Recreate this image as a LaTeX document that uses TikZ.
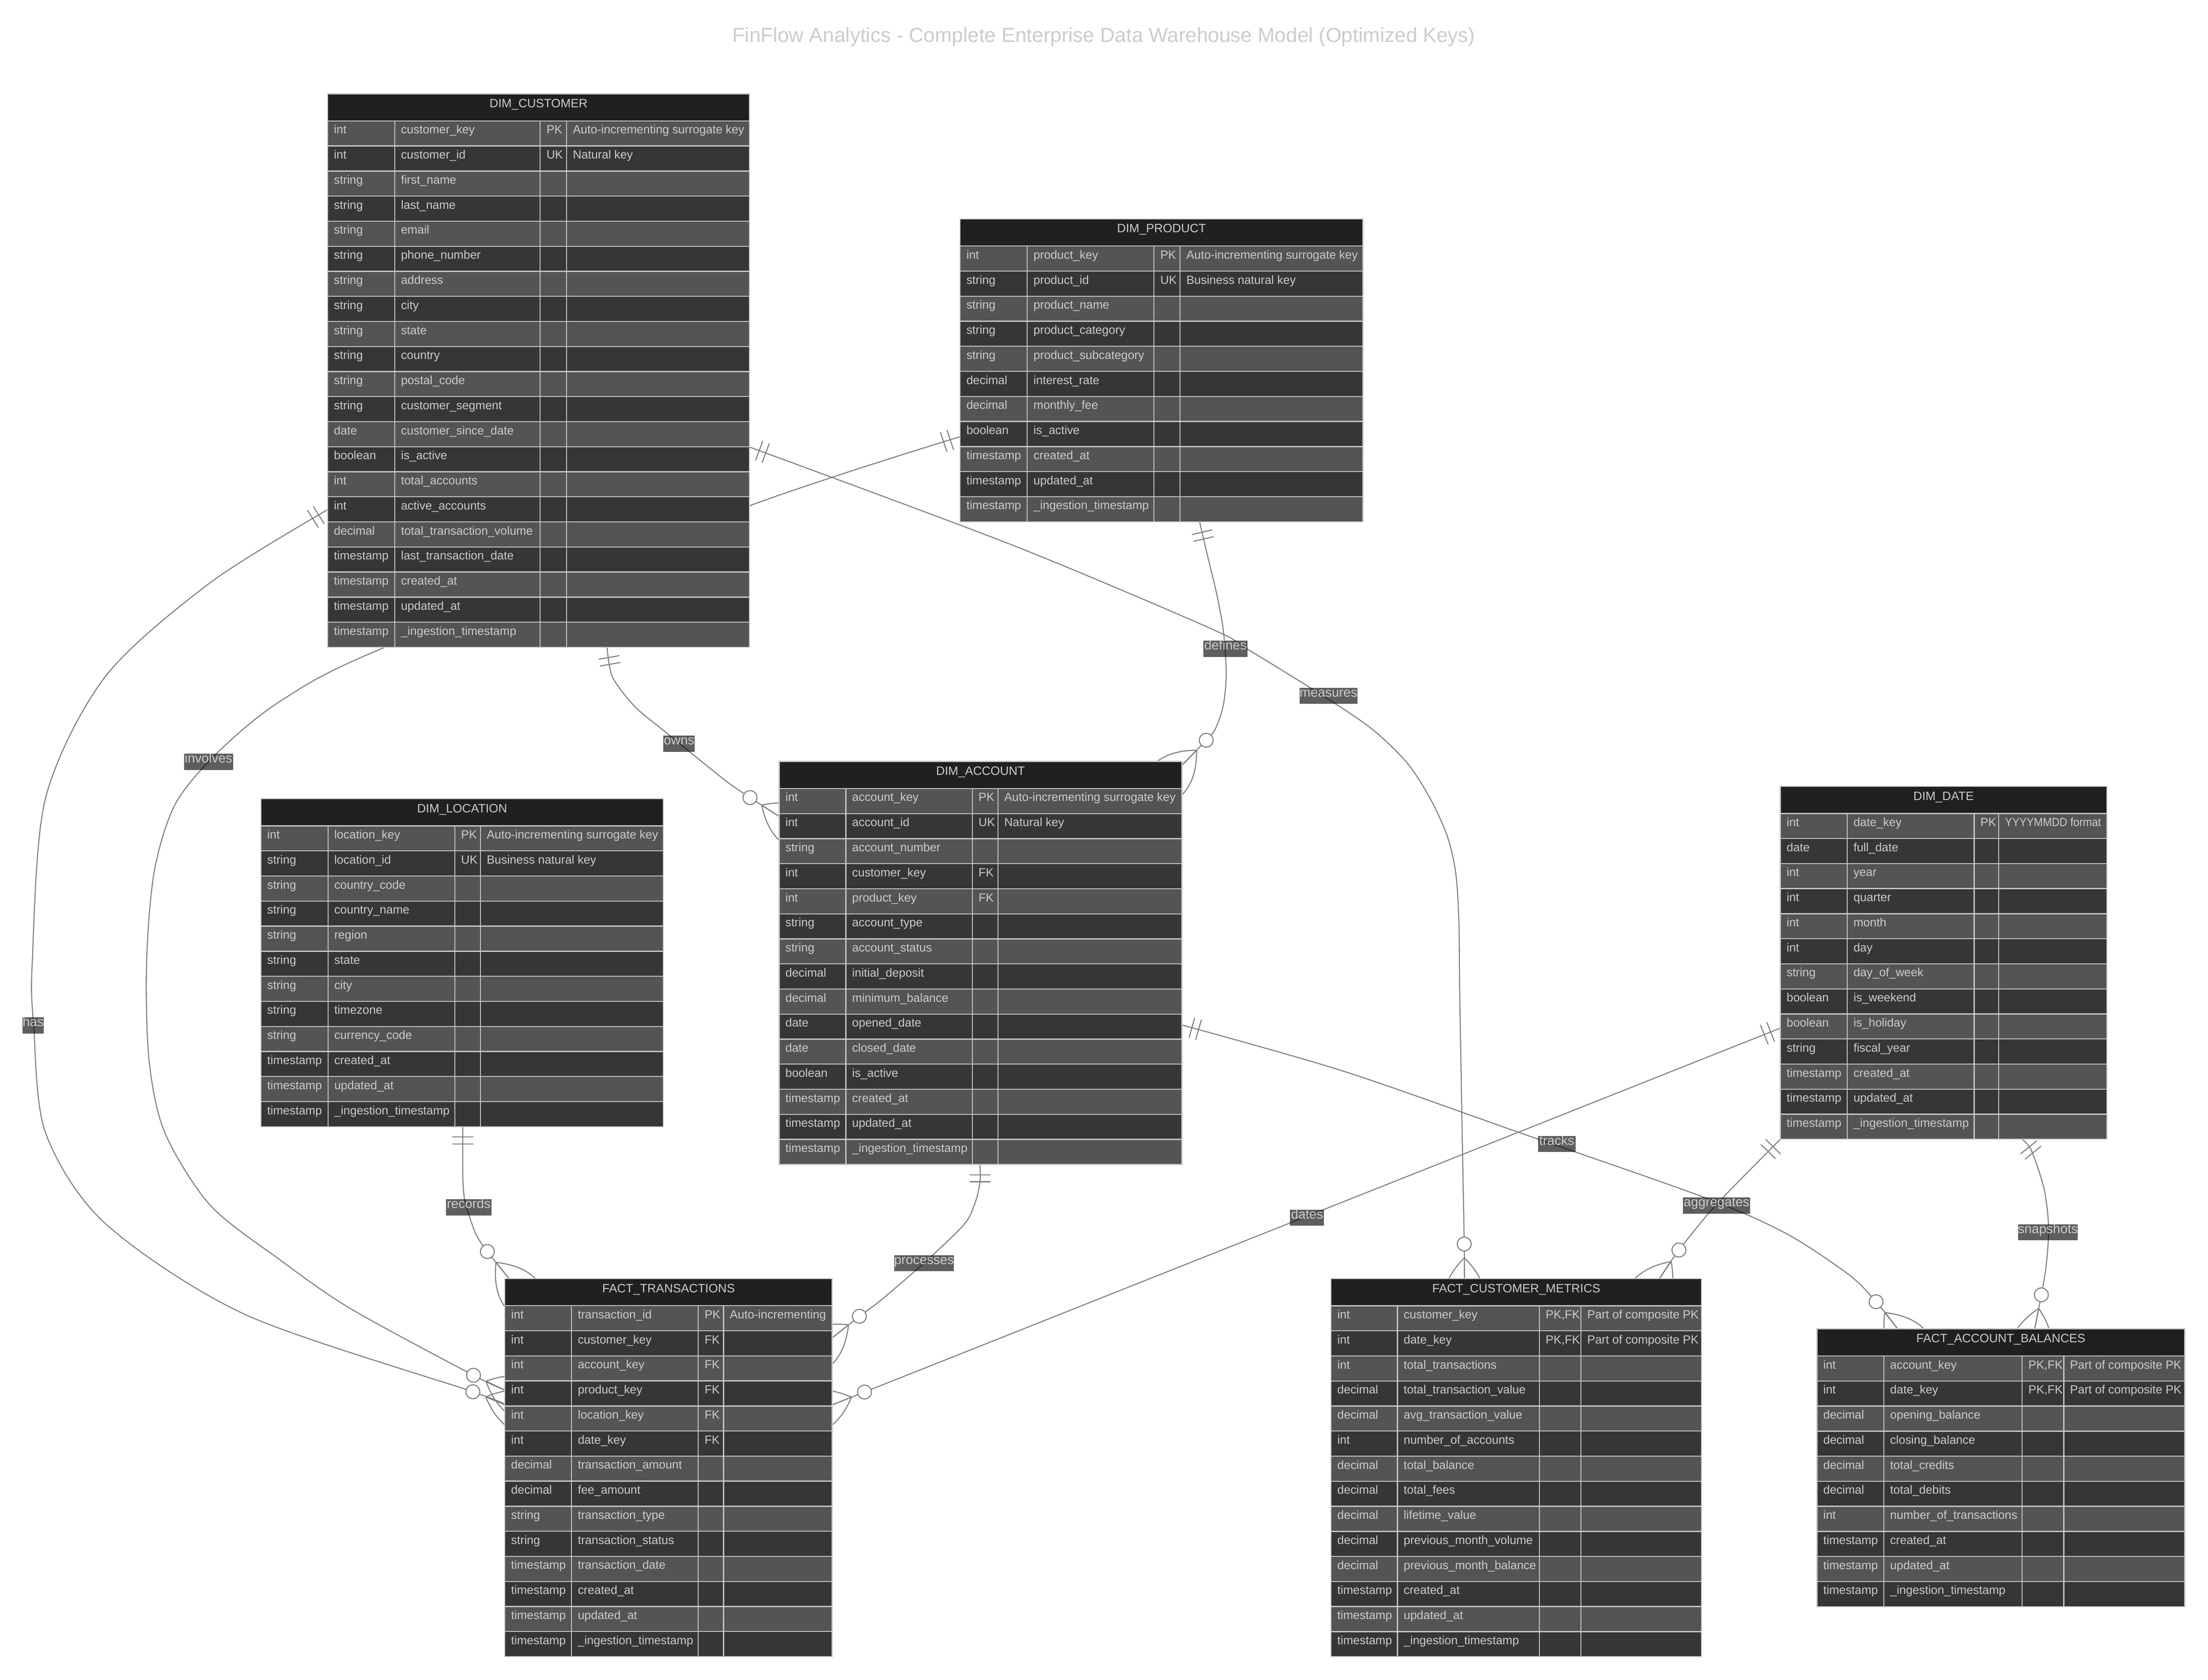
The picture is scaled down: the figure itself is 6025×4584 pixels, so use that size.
\documentclass[tikz,border=0pt]{standalone}
\usepackage{fontspec}
\usepackage{graphicx}
\setmainfont{Liberation Sans}
\definecolor{hdrfill}{HTML}{1F2020}
\definecolor{rowodd}{HTML}{545454}
\definecolor{roweven}{HTML}{363636}
\definecolor{gridcol}{HTML}{C8C8C8}
\definecolor{txtcol}{HTML}{CCCCCC}
\definecolor{linecol}{HTML}{7F7F7F}
\newcommand\rowfont{\fontsize{9.2}{11}\selectfont}
\newcommand\hdrfont{\fontsize{9.4}{11}\selectfont}
\newcommand\lblfont{\fontsize{10.2}{12}\selectfont}
\newcommand\ttlfont{\fontsize{15.8}{18}\selectfont}
\newcommand\pkfk{PK,FK}
\newcommand\yyyyfmt{\scalebox{0.91}[1]{YYYYMMDD format}}
\pgfdeclarelayer{bgw}
\pgfdeclarelayer{edges}
\pgfsetlayers{bgw,edges,main}
\tikzset{
  celltext/.style={anchor=base west, inner sep=0pt, text=txtcol, font=\rowfont},
  hdrtext/.style={anchor=base, inner sep=0pt, text=txtcol, font=\hdrfont},
  gridline/.style={draw=gridcol, line width=0.8pt},
  tablenode/.style={inner sep=0pt, outer sep=0pt, anchor=north west, draw=none},
  ermark/.style={draw=linecol, line width=0.8pt, solid},
  erline/.style={draw=linecol, line width=0.8pt},
  lbl/.style={fill=black, fill opacity=0.63, text opacity=1, text=txtcol, font=\lblfont,
    inner sep=0pt, text height=0.25cm, text depth=0.19cm},
  ttl/.style={anchor=base, inner sep=0pt, text=txtcol, font=\ttlfont},
}
\newcommand\tabgeom[6]{\def\tL{#1}\def\tT{#2}\def\tA{#3}\def\tB{#4}\def\tC{#5}\def\tR{#6}}
\newcommand\ertable[4]{%
  \pgfmathsetmacro\tBot{\tT+74+#2*68.4}%
  \pgfmathsetmacro\tW{(\tR-\tL)*0.01}%
  \pgfmathsetmacro\tH{(\tBot-\tT)*0.01}%
  \node[tablenode, minimum width=\tW cm, minimum height=\tH cm] (#1) at (\tL,\tT) {};
  \fill[hdrfill] (\tL,\tT) rectangle (\tR,\tT+74);
  \node[hdrtext] at ({(\tL+\tR)/2},\tT+37.5) {#3};
  \foreach[count=\i] \ty/\nm/\ky/\cmt in {#4} {
    \pgfmathsetmacro\rtop{\tT+74+(\i-1)*68.4}
    \pgfmathsetmacro\rbot{\rtop+68.4}
    \ifodd\i\relax
      \fill[rowodd] (\tL,\rtop) rectangle (\tR,\rbot);
    \else
      \fill[roweven] (\tL,\rtop) rectangle (\tR,\rbot);
    \fi
    \node[celltext] at (\tL+16.5,\rtop+35) {\ty};
    \node[celltext] at (\tA+16.5,\rtop+35) {\nm};
    \node[celltext] at (\tB+16.5,\rtop+35) {\ky};
    \node[celltext] at (\tC+16.5,\rtop+35) {\cmt};
    \draw[gridline] (\tL,\rtop) -- (\tR,\rtop);
  }
  \draw[gridline] (\tA,\tT+74) -- (\tA,\tBot) (\tB,\tT+74) -- (\tB,\tBot) (\tC,\tT+74) -- (\tC,\tBot);
  \draw[gridline] (\tL,\tT) rectangle (\tR,\tBot);
}
% crow's-foot markers: exactly-one at #1-s (heading to #1-s2), zero-or-more at #1-e (coming from #1-e2)
\newcommand\ermarks[1]{%
  \pgfmathanglebetweenpoints{\pgfpointanchor{#1-s}{center}}{\pgfpointanchor{#1-s2}{center}}%
  \edef\angS{\pgfmathresult}%
  \pgfmathanglebetweenpoints{\pgfpointanchor{#1-e2}{center}}{\pgfpointanchor{#1-e}{center}}%
  \edef\angE{\pgfmathresult}%
  \begin{scope}[shift={(#1-s)}, rotate=\angS]
    \draw[ermark] (28.35,-28.35) -- (28.35,28.35) (47.25,-28.35) -- (47.25,28.35);
  \end{scope}
  \begin{scope}[shift={(#1-e)}, rotate=\angE]
    \draw[ermark] (-56.7,0) .. controls (-18.9,37.8) and (18.9,56.7) .. (56.7,56.7)
                  (-56.7,0) .. controls (-18.9,-37.8) and (18.9,-56.7) .. (56.7,-56.7)
                  (-56.7,0) -- (56.7,0);
    \draw[ermark, fill=white] (-94.5,0) circle (18.9);
  \end{scope}}
\begin{document}
\catcode`\_=12
\begin{tikzpicture}[x=0.01cm,y=-0.01cm]
\useasboundingbox (0,0) rectangle (6025,4584);
\begin{pgfonlayer}{bgw}
\fill[white] (0,0) rectangle (6025,4584);
\end{pgfonlayer}

\node[ttl] (title) at (3012,115) {FinFlow Analytics - Complete Enterprise Data Warehouse Model (Optimized Keys)};

% ---------------- tables ----------------
\tabgeom{894}{256}{1077}{1474}{1546}{2045}
\ertable{cust}{21}{DIM_CUSTOMER}{int/customer_key/PK/Auto-incrementing surrogate key,
int/customer_id/UK/Natural key,
string/first_name//,
string/last_name//,
string/email//,
string/phone_number//,
string/address//,
string/city//,
string/state//,
string/country//,
string/postal_code//,
string/customer_segment//,
date/customer_since_date//,
boolean/is_active//,
int/total_accounts//,
int/active_accounts//,
decimal/total_transaction_volume//,
timestamp/last_transaction_date//,
timestamp/created_at//,
timestamp/updated_at//,
timestamp/_ingestion_timestamp//}

\tabgeom{2620}{597.5}{2803}{3149}{3220}{3719}
\ertable{prod}{11}{DIM_PRODUCT}{int/product_key/PK/Auto-incrementing surrogate key,
string/product_id/UK/Business natural key,
string/product_name//,
string/product_category//,
string/product_subcategory//,
decimal/interest_rate//,
decimal/monthly_fee//,
boolean/is_active//,
timestamp/created_at//,
timestamp/updated_at//,
timestamp/_ingestion_timestamp//}

\tabgeom{2126}{2078}{2308}{2653}{2723}{3225}
\ertable{acct}{15}{DIM_ACCOUNT}{int/account_key/PK/Auto-incrementing surrogate key,
int/account_id/UK/Natural key,
string/account_number//,
int/customer_key/FK/,
int/product_key/FK/,
string/account_type//,
string/account_status//,
decimal/initial_deposit//,
decimal/minimum_balance//,
date/opened_date//,
date/closed_date//,
boolean/is_active//,
timestamp/created_at//,
timestamp/updated_at//,
timestamp/_ingestion_timestamp//}

\tabgeom{712}{2180}{895}{1241}{1311}{1810}
\ertable{loc}{12}{DIM_LOCATION}{int/location_key/PK/Auto-incrementing surrogate key,
string/location_id/UK/Business natural key,
string/country_code//,
string/country_name//,
string/region//,
string/state//,
string/city//,
string/timezone//,
string/currency_code//,
timestamp/created_at//,
timestamp/updated_at//,
timestamp/_ingestion_timestamp//}

\tabgeom{4858}{2146}{5040.5}{5386.7}{5454}{5749}
\ertable{date}{13}{DIM_DATE}{int/date_key/PK/\yyyyfmt,
date/full_date//,
int/year//,
int/quarter//,
int/month//,
int/day//,
string/day_of_week//,
boolean/is_weekend//,
boolean/is_holiday//,
string/fiscal_year//,
timestamp/created_at//,
timestamp/updated_at//,
timestamp/_ingestion_timestamp//}

\tabgeom{1377.5}{3489.5}{1559.6}{1905.4}{1974.3}{2271}
\ertable{ftrans}{14}{FACT_TRANSACTIONS}{int/transaction_id/PK/Auto-incrementing,
int/customer_key/FK/,
int/account_key/FK/,
int/product_key/FK/,
int/location_key/FK/,
int/date_key/FK/,
decimal/transaction_amount//,
decimal/fee_amount//,
string/transaction_type//,
string/transaction_status//,
timestamp/transaction_date//,
timestamp/created_at//,
timestamp/updated_at//,
timestamp/_ingestion_timestamp//}

\tabgeom{3632}{3489.7}{3813}{4200.5}{4314}{4643}
\ertable{fcm}{14}{FACT_CUSTOMER_METRICS}{int/customer_key/\pkfk/Part of composite PK,
int/date_key/\pkfk/Part of composite PK,
int/total_transactions//,
decimal/total_transaction_value//,
decimal/avg_transaction_value//,
int/number_of_accounts//,
decimal/total_balance//,
decimal/total_fees//,
decimal/lifetime_value//,
decimal/previous_month_volume//,
decimal/previous_month_balance//,
timestamp/created_at//,
timestamp/updated_at//,
timestamp/_ingestion_timestamp//}

\tabgeom{4958}{3626.6}{5140.4}{5517.8}{5631.4}{5961.5}
\ertable{fab}{10}{FACT_ACCOUNT_BALANCES}{int/account_key/\pkfk/Part of composite PK,
int/date_key/\pkfk/Part of composite PK,
decimal/opening_balance//,
decimal/closing_balance//,
decimal/total_credits//,
decimal/total_debits//,
int/number_of_transactions//,
timestamp/created_at//,
timestamp/updated_at//,
timestamp/_ingestion_timestamp//}

% ---------------- connector key points ----------------
\coordinate (owns-s) at (1656.7,1766.4);   \coordinate (owns-s2) at (1671,1847);
\coordinate (owns-e2) at (2047,2177);      \coordinate (owns-e) at (2126,2228);
\coordinate (defines-s) at (3273.6,1424.9); \coordinate (defines-s2) at (3295,1517);
\coordinate (defines-e2) at (3291.5,2020.3); \coordinate (defines-e) at (3225.4,2088);
\coordinate (has-s) at (894,1391);         \coordinate (has-s2) at (574,1590);
\coordinate (has-e2) at (1290.3,3798.3);   \coordinate (has-e) at (1377.9,3833.8);
\coordinate (involves-s) at (2620,1191.8); \coordinate (involves-s2) at (2047,1379.6);
\coordinate (involves-e2) at (1291.8,3753.3); \coordinate (involves-e) at (1377.5,3793.6);
\coordinate (measures-s) at (2045,1220);   \coordinate (measures-s2) at (2762,1487.5);
\coordinate (measures-e2) at (3995.5,3399); \coordinate (measures-e) at (3996,3489.7);
\coordinate (records-s) at (1262.8,3074.8); \coordinate (records-s2) at (1262.8,3206.8);
\coordinate (records-e2) at (1332.6,3419); \coordinate (records-e) at (1389,3489.5);
\coordinate (processes-s) at (2674,3178);  \coordinate (processes-s2) at (2674,3226.7);
\coordinate (processes-e2) at (2343.8,3593.3); \coordinate (processes-e) at (2271,3651);
\coordinate (dates-s) at (4858,2806);      \coordinate (dates-e) at (2271,3834);
\coordinate (dates-s2) at (dates-e);       \coordinate (dates-e2) at (dates-s);
\coordinate (tracks-s) at (3225,2797.3);   \coordinate (tracks-s2) at (3666.6,2923.6);
\coordinate (tracks-e2) at (5118.3,3551.4); \coordinate (tracks-e) at (5178,3626.6);
\coordinate (aggregates-s) at (4858,3109.2); \coordinate (aggregates-s2) at (4682.6,3288.4);
\coordinate (aggregates-e2) at (4579.3,3414.6); \coordinate (aggregates-e) at (4528,3489.7);
\coordinate (snapshots-s) at (5517.8,3109.2); \coordinate (snapshots-s2) at (5543.6,3141);
\coordinate (snapshots-e2) at (5569.5,3537.4); \coordinate (snapshots-e) at (5552,3626.6);

% ---------------- connectors (behind tables) ----------------
\begin{pgfonlayer}{edges}
\draw[erline] plot[smooth] coordinates {(owns-s) (owns-s2) (1732,1928) (1811,1994) (1974,2126) (owns-e2) (owns-e)};
\draw[erline] plot[smooth] coordinates {(defines-s) (defines-s2) (3319.7,1619.6) (3338,1720) (3346,1837) (3338,1925) (3316,1990) (defines-e2) (defines-e)};
\draw[erline] plot[smooth] coordinates {(has-s) (has-s2) (287,1847) (124,2179) (88,2627) (92,2800) (124,3091) (287,3339) (670,3588) (has-e2) (has-e)};
\draw[erline] plot[smooth] coordinates {(involves-s) (involves-s2) (1047.5,1767.6) (765,1913.5) (593,2054.5) (478,2195) (421,2378) (400,2626.5) (406.6,2891.8) (449.6,3090.8) (574,3289.7) (765,3439) (956.7,3571.6) (involves-e2) (involves-e)};
\draw[erline] plot[smooth] coordinates {(measures-s) (measures-s2) (3300,1713.6) (3402,1770.5) (3618.9,1904.5) (3746,1991.5) (3842,2085) (3906,2185.7) (3950.5,2286) (3972.8,2386.6) (3981,2520.5) (3983,2700) (3990,3100) (measures-e2) (measures-e)};
\draw[erline] plot[smooth] coordinates {(records-s) (records-s2) (1267.6,3273) (1282,3323) (1301,3373) (records-e2) (records-e)};
\draw[erline] plot[smooth] coordinates {(processes-s) (processes-s2) (2660.7,3283) (2629.5,3343) (2518,3450) (2401.8,3550) (processes-e2) (processes-e)};
\draw[erline] (dates-s) -- (dates-e);
\draw[erline] plot[smooth] coordinates {(tracks-s) (tracks-s2) (4148.8,3092) (4648,3267) (4872,3365.5) (5044,3478) (tracks-e2) (tracks-e)};
\draw[erline] plot[smooth] coordinates {(aggregates-s) (aggregates-s2) (aggregates-e2) (aggregates-e)};
\draw[erline] plot[smooth] coordinates {(snapshots-s) (snapshots-s2) (5578,3246) (5590,3351.5) (5583,3457) (snapshots-e2) (snapshots-e)};
\ermarks{owns}
\ermarks{defines}
\ermarks{has}
\ermarks{involves}
\ermarks{measures}
\ermarks{records}
\ermarks{processes}
\ermarks{dates}
\ermarks{tracks}
\ermarks{aggregates}
\ermarks{snapshots}
\end{pgfonlayer}

% ---------------- relationship labels ----------------
\node[lbl, minimum width=0.85cm] (l-owns) at (1853,2029.5) {owns};
\node[lbl, minimum width=1.21cm] (l-defines) at (3344,1770.7) {defines};
\node[lbl, minimum width=1.34cm] (l-involves) at (569,2079) {involves};
\node[lbl, minimum width=0.545cm] (l-has) at (90.5,2798.5) {has};
\node[lbl, minimum width=1.24cm] (l-records) at (1279,3295) {records};
\node[lbl, minimum width=1.57cm] (l-measures) at (3625,1899) {measures};
\node[lbl, minimum width=1.607cm] (l-processes) at (2521.4,3447.3) {processes};
\node[lbl, minimum width=0.93cm] (l-dates) at (3566.6,3323.5) {dates};
\node[lbl, minimum width=1.016cm] (l-tracks) at (4248,3122) {tracks};
\node[lbl, minimum width=1.826cm] (l-aggregates) at (4684,3290) {aggregates};
\node[lbl, minimum width=1.62cm] (l-snapshots) at (5588,3363) {snapshots};
\end{tikzpicture}
\end{document}
